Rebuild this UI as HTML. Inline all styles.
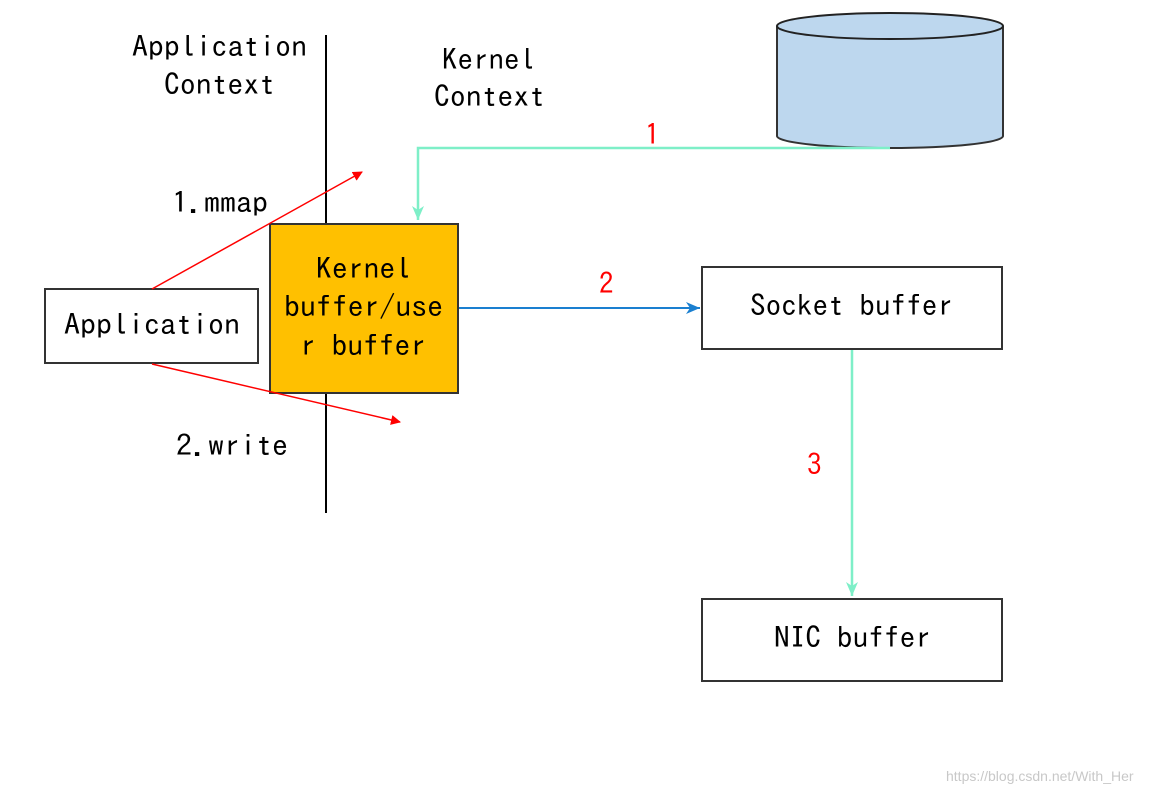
<!DOCTYPE html>
<html><head><meta charset="utf-8"><style>
html,body{margin:0;padding:0;background:#fff;}
svg{display:block;}
text{font-family:"IPAGothic","Liberation Mono",monospace;font-size:29px;fill:#000;}
</style></head><body>
<svg width="1166" height="794" viewBox="0 0 1166 794" xmlns="http://www.w3.org/2000/svg">
<defs>
<marker id="ar" markerWidth="10" markerHeight="10" refX="9" refY="5" orient="auto" markerUnits="userSpaceOnUse"><path d="M0,0 L10,5 L0,10 z" fill="#ff0000"/></marker>
<marker id="ag" markerWidth="12" markerHeight="14" refX="6" refY="14" orient="0" markerUnits="userSpaceOnUse"><path d="M0,0 L6,14 L12,0 L6,4 z" fill="#7eefc8"/></marker>
<marker id="ab" markerWidth="14" markerHeight="12" refX="14" refY="6" orient="0" markerUnits="userSpaceOnUse"><path d="M0,0 L14,6 L0,12 L4,6 z" fill="#1a7fd0"/></marker>
</defs>
<line x1="326" y1="35" x2="326" y2="513" stroke="#000" stroke-width="2"/>
<text x="132" y="57" textLength="175" lengthAdjust="spacingAndGlyphs">Application</text>
<text x="164" y="95" textLength="111" lengthAdjust="spacingAndGlyphs">Context</text>
<text x="442" y="70" textLength="93" lengthAdjust="spacingAndGlyphs">Kernel</text>
<text x="434" y="107" textLength="111" lengthAdjust="spacingAndGlyphs">Context</text>
<path d="M777,26 L777,136 A113,12 0 0 0 1003,136 L1003,26" fill="#bdd7ee" stroke="#333" stroke-width="2"/>
<ellipse cx="890" cy="26" rx="113" ry="13" fill="#bdd7ee" stroke="#222" stroke-width="2"/>
<polyline points="890,148 418,148 418,220" fill="none" stroke="#7eefc8" stroke-width="2.5" marker-end="url(#ag)"/>
<text x="645" y="145" style="fill:#ff0000">1</text>
<rect x="270" y="224" width="188" height="169" fill="#ffc000" stroke="#333" stroke-width="2"/>
<text x="316" y="279" textLength="95" lengthAdjust="spacingAndGlyphs">Kernel</text>
<text x="284" y="317" textLength="159" lengthAdjust="spacingAndGlyphs">buffer/use</text>
<text x="300" y="356" textLength="126" lengthAdjust="spacingAndGlyphs">r buffer</text>
<rect x="45" y="289" width="213" height="74" fill="#fff" stroke="#333" stroke-width="2"/>
<text x="64" y="335" textLength="176" lengthAdjust="spacingAndGlyphs">Application</text>
<line x1="152" y1="289" x2="362" y2="172" stroke="#ff0000" stroke-width="1.5" marker-end="url(#ar)"/>
<line x1="152" y1="364" x2="400" y2="422" stroke="#ff0000" stroke-width="1.5" marker-end="url(#ar)"/>
<text x="172" y="213" textLength="96" lengthAdjust="spacingAndGlyphs">1.mmap</text>
<text x="176" y="456" textLength="112" lengthAdjust="spacingAndGlyphs">2.write</text>
<line x1="459" y1="308" x2="700" y2="308" stroke="#1a7fd0" stroke-width="2" marker-end="url(#ab)"/>
<text x="599" y="294" style="fill:#ff0000">2</text>
<rect x="702" y="267" width="300" height="82" fill="#fff" stroke="#333" stroke-width="2"/>
<text x="750" y="316" textLength="203" lengthAdjust="spacingAndGlyphs">Socket buffer</text>
<line x1="852" y1="350" x2="852" y2="596" stroke="#7eefc8" stroke-width="2.5" marker-end="url(#ag)"/>
<text x="807" y="475" style="fill:#ff0000">3</text>
<rect x="702" y="599" width="300" height="82" fill="#fff" stroke="#333" stroke-width="2"/>
<text x="774" y="648" textLength="157" lengthAdjust="spacingAndGlyphs">NIC buffer</text>
<text x="946" y="781" style="font-family:'Liberation Sans',sans-serif;font-size:14px;fill:#c8c8c8">https://blog.csdn.net/With_Her</text>
</svg>
</body></html>
